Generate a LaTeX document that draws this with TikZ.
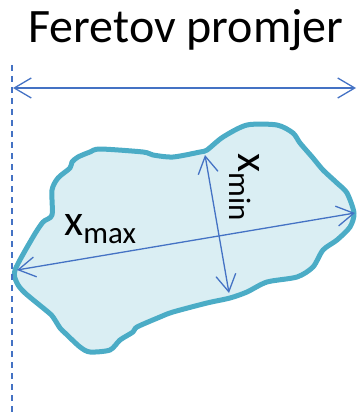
\documentclass[tikz,border=0pt]{standalone}
\usepackage{fontspec}
\setmainfont{Carlito}
\usetikzlibrary{arrows.meta}
\definecolor{fpBlue}{HTML}{4472C4}
\definecolor{fpTeal}{HTML}{4BACC6}
\definecolor{fpFill}{HTML}{DAEEF3}
\tikzset{
  % outline of the particle
  grain/.style={draw=fpTeal,line width=5pt,fill=fpFill,line join=round},
  % double arrows
  arr/.style={{Straight Barb[length=17pt,width=20pt]}-{Straight Barb[length=17pt,width=20pt]},
    line width=1.3pt,color=fpBlue},
  % tangent line
  tang/.style={line width=1.5pt,color=fpBlue,dash pattern=on 6pt off 5pt},
  lbl/.style={font=\fontsize{44}{44}\selectfont,inner sep=0pt},
}
\newcommand{\fpsub}[1]{\raisebox{-0.2em}{\fontsize{31}{31}\selectfont #1}}
\begin{document}
\begin{tikzpicture}[x=1pt,y=-1pt]
  \useasboundingbox (0,0) rectangle (357,414);

  \node[lbl,font=\fontsize{48}{48}\selectfont,anchor=base] (title) at (186,43) {Feretov promjer};

  % particle
  \draw[grain] plot[smooth cycle,tension=0.45] coordinates {
    (15,270) (33,237) (43,222) (52,215) (52,190) (58,178) (70,168)
    (72,162) (78,157) (90,152) (100,149) (143,152) (153,155) (173,157)
    (200,152) (207,150) (223,137) (247,125) (277,125) (293,133) (300,143)
    (313,158) (323,170) (337,183) (347,193) (354,213) (350,227) (337,240)
    (323,250) (313,267) (297,277) (267,282) (247,292) (230,298) (207,303)
    (173,312) (160,317) (137,327) (133,332) (120,340) (110,350) (90,352)
    (80,347) (65,333) (60,328) (53,317) (48,312) (25,293) (17,283)};

  \coordinate (tanTop) at (12,65);
  \coordinate (tanBot) at (12,414);
  \coordinate (ferL) at (13,88);
  \coordinate (ferR) at (356,88);
  \coordinate (maxL) at (17,270);
  \coordinate (maxR) at (355,213);
  \coordinate (minT) at (205,155);
  \coordinate (minB) at (229,293);

  \draw[tang] (tanTop) -- (tanBot);
  \draw[arr] (ferL) -- (ferR);
  \draw[arr] (maxL) -- (maxR);
  \draw[arr] (minT) -- (minB);

  \node[lbl,anchor=base west] (xmax) at (64,235) {x\fpsub{max}};
  \node[lbl,anchor=base west,rotate=-90] (xmin) at (238,153) {x\fpsub{min}};
\end{tikzpicture}
\end{document}
